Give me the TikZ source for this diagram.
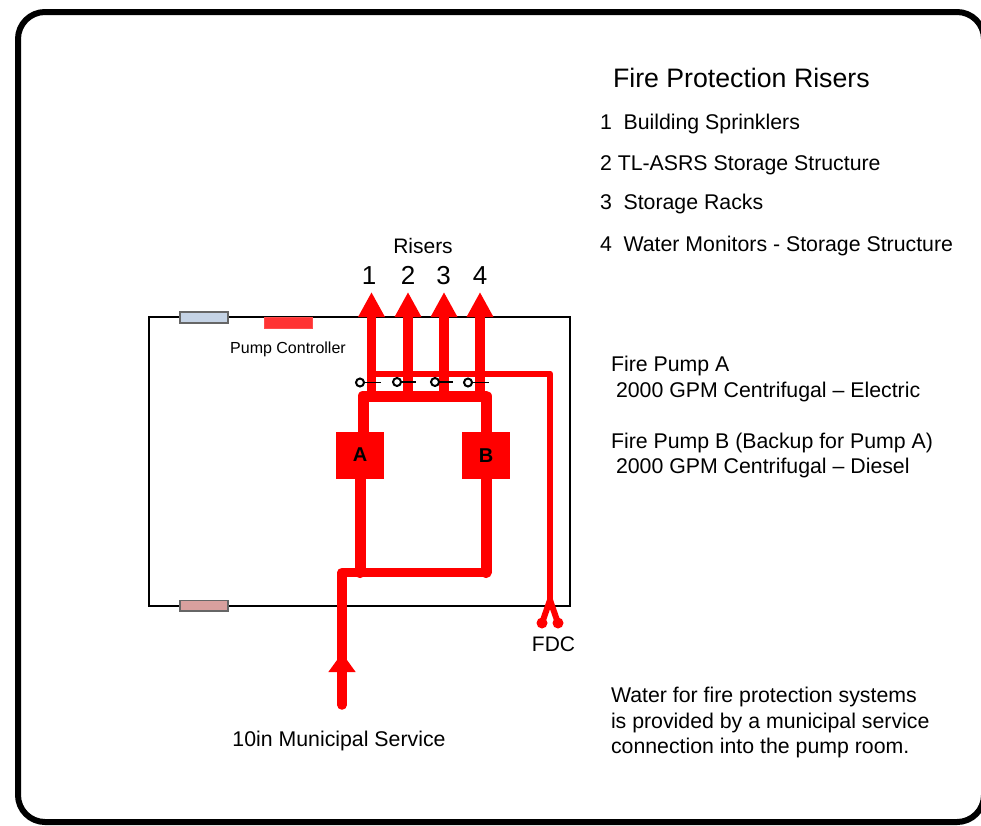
\documentclass[tikz,border=0pt]{standalone}
\usepackage{fontspec}
\setmainfont{Liberation Sans}
\usetikzlibrary{arrows.meta}
\newcommand{\fsz}[1]{\fontsize{#1}{#1}\selectfont}
\definecolor{pipe}{RGB}{255,0,0}
\tikzset{
  x=1pt,y=-1pt,
  lbl/.style={anchor=base west,inner sep=0pt,outer sep=0pt,text=black},
  mid/.style={anchor=base,inner sep=0pt,outer sep=0pt,text=black},
  big/.style={font=\fsz{21.3}},
  pipeline/.style={draw=pipe,line join=round,line cap=round},
  riser/.style={pipeline,line width=9.5pt,line cap=butt,-{Triangle[length=25pt,width=25pt]}},
  heavy/.style={pipeline,line width=11pt},
  medium/.style={pipeline,line width=9.5pt},
  thin pipe/.style={pipeline,line width=6pt},
  pumpbox/.style={fill=pipe,draw=none,minimum width=48pt,minimum height=47pt,inner sep=0pt,anchor=north west,font=\fsz{20}\bfseries,text=black},
  swline/.style={draw=black,line width=1.8pt},
  swdot/.style={circle,draw=black,fill=white,line width=2pt,minimum size=8pt,inner sep=0pt},
  fdcend/.style={circle,fill=pipe,draw=none,minimum size=11pt,inner sep=0pt}
}
\begin{document}
\begin{tikzpicture}
\useasboundingbox (0,0) rectangle (981,825);
\fill[white] (0,0) rectangle (981,825);
% frame
\draw[line width=6pt,black,rounded corners=27pt] (18,12) rectangle (984,822);
% room
\coordinate (rtl) at (149,316.5);
\coordinate (rbr) at (570,605.5);
\draw[line width=2pt,black,line join=miter] (rtl) rectangle (rbr);
\path[draw=black!60,line width=1.3pt,fill={rgb,255:red,197;green,211;blue,229}] (180,312) rectangle (228,323);
\path[draw=pipe!70,line width=.5pt,fill={rgb,255:red,255;green,51;blue,51}] (264,317.5) rectangle (312,328);
\path[draw=black!60,line width=1.3pt,fill={rgb,255:red,217;green,160;blue,158}] (180,600.5) rectangle (228,611);
% pumps
\node[pumpbox] (pa) at (336,432) {\raisebox{3pt}{A}};
\node[pumpbox] (pb) at (462,432) {\raisebox{-1pt}{B}};
% junctions
\coordinate (ml) at (363,396);
\coordinate (mr) at (486,396);
\coordinate (bl) at (342,572.5);
\coordinate (br) at (486,572.5);
\coordinate (inl) at (342,705);
% suction
\draw[heavy] (360,479) -- (360,572.5);
\draw[heavy] (486,479) -- (br);
\draw[medium] (inl) -- (bl) -- (br);
\draw[draw=pipe,line width=9.5pt,-{Triangle[length=19pt,width=26pt]}] (inl) -- (342,653);
% discharge
\draw[heavy] (363,432) -- (ml) -- (mr) -- (486,432);
\foreach \n/\x in {1/371.5,2/408,3/444,4/480}{
  \coordinate (rb\n) at (\x,396);
  \coordinate (rt\n) at (\x,292);
  \draw[riser] (rb\n) -- (rt\n);
}
% FDC
\coordinate (fs) at (371.5,373.5);
\coordinate (fc) at (550,373.5);
\coordinate (fd) at (550,600);
\draw[thin pipe] (fs) -- (fc) -- (fd);
\node[fdcend] (f1) at (542,623) {};
\node[fdcend] (f2) at (558,623) {};
\draw[pipeline,line width=6pt] (fd) -- (f1.center);
\draw[pipeline,line width=6pt] (fd) -- (f2.center);
% valves
\foreach \n/\a/\b/\y in {1/360/381/382.5,2/397/416/382,3/435/453/382,4/468/489/382.5}{
  \node[swdot] (sd\n) at (\a,\y) {};
  \coordinate (se\n) at (\b,\y);
  \draw[swline] (sd\n) -- (se\n);
}
% labels
\node[mid,font=\fsz{21}] (risers) at (423,253) {Risers};
\node[mid,font=\fsz{26}] (n1) at (369,284) {1};
\node[mid,font=\fsz{26}] (n2) at (408,284) {2};
\node[mid,font=\fsz{26}] (n3) at (443.5,284) {3};
\node[mid,font=\fsz{26}] (n4) at (480,284) {4};
\node[mid,font=\fsz{16}] (pc) at (288,353) {Pump Controller};
\node[mid,font=\fsz{21}] (fdc) at (553.5,651) {FDC};
\node[mid,font=\fsz{21.3}] (svc) at (339,746) {10in Municipal Service};
\node[lbl,font=\fsz{26.7}] (t0) at (613,87.5) {Fire Protection Risers};
\node[lbl,big] (t1) at (600,129) {1\hspace{.55em}Building Sprinklers};
\node[lbl,big] (t2) at (600,170) {2 TL-ASRS Storage Structure};
\node[lbl,big] (t3) at (600,209) {3\hspace{.55em}Storage Racks};
\node[lbl,big] (t4) at (600,251) {4\hspace{.55em}Water Monitors - Storage Structure};
\node[lbl,big] (a1) at (611,371) {Fire Pump A};
\node[lbl,big] (a2) at (616,397) {2000 GPM Centrifugal – Electric};
\node[lbl,big] (b1) at (611,448) {Fire Pump B (Backup for Pump A)};
\node[lbl,big] (b2) at (616,473) {2000 GPM Centrifugal – Diesel};
\node[lbl,big] (w1) at (611,702) {Water for fire protection systems};
\node[lbl,big] (w2) at (611,728) {is provided by a municipal service};
\node[lbl,big] (w3) at (611,753) {connection into the pump room.};
\end{tikzpicture}
\end{document}
